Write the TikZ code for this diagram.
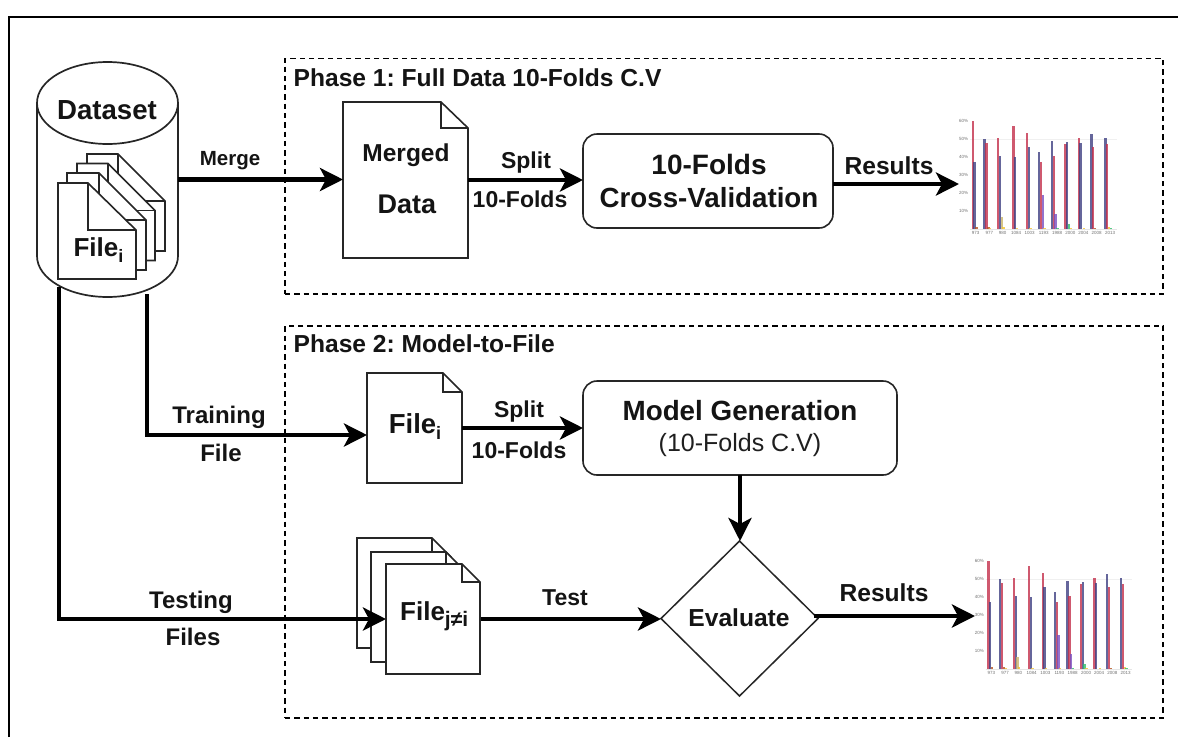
\documentclass[tikz,border=0pt]{standalone}
\usepackage{fontspec}
\setmainfont{Liberation Sans}
\usetikzlibrary{arrows.meta,calc,shapes.geometric}
\frenchspacing
\newcommand\fsz[1]{\fontsize{#1}{#1}\selectfont}
\newcommand\subi[1]{{\fsz{18}\raisebox{-6pt}{#1}}}
\definecolor{barred}{HTML}{C4304C}
\definecolor{barblue}{HTML}{3F4082}
\definecolor{baryel}{HTML}{F2C230}
\definecolor{barkhaki}{HTML}{C9B36A}
\definecolor{barpur}{HTML}{7A4FC0}
\definecolor{bargrn}{HTML}{2FBF6A}
\definecolor{barbrn}{HTML}{B5521E}
\tikzset{
  frameline/.style={line width=2pt,draw=black},
  phasebox/.style={draw=black,line width=1.7pt,dash pattern=on 5.3pt off 4pt,inner sep=0pt,outer sep=0pt},
  anchorbox/.style={inner sep=0pt,outer sep=0pt},
  docline/.style={draw=black!85,fill=white,line width=1.6pt,line join=miter},
  procbox/.style={draw=black!85,fill=white,line width=1.6pt,rounded corners=14pt,inner sep=0pt,outer sep=0pt},
  flow/.style={line width=4.6pt,draw=black,-{Stealth[length=23pt,width=23pt,inset=6pt]}},
  lab/.style={font=\bfseries\fsz{24},inner sep=0pt,text=black!92},
  chartbar/.style={opacity=.8},
  ticklab/.style={font=\fsz{4.5},text=black!55,inner sep=0pt},
}
\newcommand\docshape[3]{%
  \draw[docline] (#1.north west) -- ($(#1.north east)+(-#2,0)$) -- ($(#1.north east)+(0,#3)$)
    -- (#1.south east) -- (#1.south west) -- cycle;
  \draw[docline,fill=none] ($(#1.north east)+(-#2,0)$) -- ($(#1.north east)+(-#2,#3)$) -- ($(#1.north east)+(0,#3)$);
}
\newcommand\barchart[2]{%
  \begin{scope}[shift={(#1,#2)},x=0.33333pt,y=-0.33333pt]
    \draw[black!10,line width=.5pt] (150,387) -- (590,387);
    \draw[black!6,line width=.5pt] (150,118) -- (590,118);
    \foreach \yy/\tx in {64/60\%,118/50\%,172/40\%,226/30\%,280/20\%,334/10\%}
      \node[ticklab] at (131,\yy) {\tx};
    \foreach \xx/\tx in {167/973,208/977,248/980,288/1084,329/1003,371/1193,411/1988,451/2000,490/2004,530/2008,570/2013}
      \node[ticklab] at (\xx,398) {\tx};
    \foreach \xx/\tt/\cc in {
      158/62/barred,163/187/barblue,169/380/barbrn,
      193/118/barblue,199/128/barred,205/382/barbrn,210/385/baryel,
      234/115/barred,240/167/barblue,245/352/barkhaki,250/382/baryel,
      280/77/barred,285/170/barblue,290/385/baryel,
      321/100/barred,326/142/barblue,331/384/baryel,
      357/156/barblue,363/187/barred,368/286/barpur,373/385/baryel,
      395/124/barblue,401/168/barred,406/343/barpur,412/384/bargrn,
      436/131/barred,441/127/barblue,446/373/bargrn,452/385/baryel,
      476/115/barred,481/128/barblue,492/385/baryel,
      514/103/barblue,519/142/barred,525/384/barbrn,
      556/113/barblue,561/133/barred,567/382/baryel,572/385/bargrn}
      \fill[\cc,chartbar] (\xx-3.5,387) rectangle (\xx+3.5,\tt);
  \end{scope}%
}
\begin{document}
\begin{tikzpicture}[x=1pt,y=-1pt]
\useasboundingbox (0,0) rectangle (1178,737);
\fill[white] (0,0) rectangle (1178,737);
\draw[frameline] (9,737) -- (9,17) -- (1178,17);

% phase boxes
\node[phasebox,minimum width=878pt,minimum height=235.5pt] (phaseA) at (724,176.25) {};
\node[phasebox,minimum width=878pt,minimum height=392pt] (phaseB) at (724,522) {};
\node[lab,font=\bfseries\fsz{24.6},anchor=west] (titleA) at (293.5,78) {Phase 1: Full Data 10-Folds C.V};
\node[lab,font=\bfseries\fsz{24.6},anchor=west] (titleB) at (293.5,344) {Phase 2: Model-to-File};

% dataset cylinder
\node[anchorbox,minimum width=141pt,minimum height=235pt] (dataset) at (107.5,179.5) {};
\draw[docline,line width=1.7pt] (37,103) -- (37,256) .. controls (37,278.6) and (68.6,297) .. (107.5,297)
  .. controls (146.4,297) and (178,278.6) .. (178,256) -- (178,103);
\draw[docline,line width=1.7pt] (107.5,103) ellipse [x radius=70.5, y radius=41];
\node[lab,font=\bfseries\fsz{27.6}] (dstext) at (107,110) {Dataset};

% files in cylinder
\node[anchorbox,minimum width=78pt,minimum height=97pt] (cfD) at (126,202.5) {};
\node[anchorbox,minimum width=78pt,minimum height=97pt] (cfC) at (116,212) {};
\node[anchorbox,minimum width=79pt,minimum height=97pt] (cfB) at (106.5,221.5) {};
\node[anchorbox,minimum width=78pt,minimum height=96pt] (cfA) at (97,231) {};
\docshape{cfD}{47}{47}
\docshape{cfC}{47}{47}
\docshape{cfB}{47}{47}
\docshape{cfA}{48}{47}
\node[lab,font=\bfseries\fsz{26}] (cftext) at (98.5,250) {File\subi{i}};

% merged doc
\node[anchorbox,minimum width=125pt,minimum height=156pt] (merged) at (405.5,180) {};
\docshape{merged}{27}{26}
\node[lab,font=\bfseries\fsz{24.5}] (mergedA) at (406,155.5) {Merged};
\node[lab,font=\bfseries\fsz{27}] (mergedB) at (407,204) {Data};

% CV box
\node[procbox,minimum width=250pt,minimum height=94pt] (cv) at (708,181) {};
\node[lab,font=\bfseries\fsz{28}] (cvA) at (709,164) {10-Folds};
\node[lab,font=\bfseries\fsz{27.7}] (cvB) at (709,198) {Cross-Validation};

% file i
\node[anchorbox,minimum width=95pt,minimum height=110pt] (fileI) at (414.5,428) {};
\docshape{fileI}{19}{19}
\node[lab,font=\bfseries\fsz{27.5}] (fileItext) at (415,427) {File\subi{i}};

% model box
\node[procbox,minimum width=314pt,minimum height=94pt] (model) at (740,428) {};
\node[lab,font=\bfseries\fsz{27.8}] (modelA) at (740,411) {Model Generation};
\node[font=\fsz{25},inner sep=0pt,text=black!88] (modelB) at (740,445) {(10-Folds C.V)};

% diamond
\node[diamond,draw=black!85,fill=white,line width=1.5pt,aspect=1,inner sep=0pt,outer sep=0pt,
  minimum width=157pt,minimum height=155pt] (eval) at (739.5,618.5) {};
\node[lab,font=\bfseries\fsz{24.6}] (evaltext) at (739,618) {Evaluate};

% stacked files
\node[anchorbox,minimum width=94pt,minimum height=110pt] (fjC) at (404,593) {};
\node[anchorbox,minimum width=94pt,minimum height=110pt] (fjB) at (418,607) {};
\node[anchorbox,minimum width=94pt,minimum height=110pt] (fileJ) at (433,619) {};
\docshape{fjC}{19}{19}
\docshape{fjB}{19}{19}

% charts
\node[anchorbox,minimum width=158pt,minimum height=130pt] (chartA) at (1040,184) {};
\node[anchorbox,minimum width=158pt,minimum height=122pt] (chartB) at (1054,616) {};
\barchart{920}{100}
\barchart{935.67}{540}

% connectors
\coordinate (trainstart) at (147,294);
\coordinate (teststart) at (59,287);
\draw[flow] (dataset.east) -- (dataset.east -| merged.west);
\draw[flow] (merged.east) -- (merged.east -| cv.west);
\draw[flow] (cv.east |- chartA.west) -- ($(chartA.west)+(-2,0)$);
\draw[flow] (fileI.east) -- (model.west);
\draw[flow] (model.south) -- (model.south |- eval.north);
\draw[flow] ($(eval.east)+(-4,-2.5)$) -- ($(chartB.west)+(0,0)$);
\draw[flow] (trainstart) |- ($(fileI.west)+(0,7)$);
\draw[flow] (teststart) |- (fileJ.west);
\draw[flow] (fileJ.east) -- (fileJ.east -| eval.west);
\docshape{fileJ}{18}{18}
\node[lab,font=\bfseries\fsz{26},anchor=west] (fileJtext) at (400,616) {File{\fsz{21}\raisebox{-6pt}{j≠i}}};

% labels
\node[lab,font=\bfseries\fsz{20.5}] (lmerge) at (230,161) {Merge};
\node[lab,font=\bfseries\fsz{23}] (lsplitA) at (526,163) {Split};
\node[lab,font=\bfseries\fsz{23}] (lfoldA) at (520,199) {10-Folds};
\node[lab,font=\bfseries\fsz{24.6}] (lresA) at (889,166) {Results};
\node[lab] (ltrainA) at (219,417) {Training};
\node[lab] (ltrainB) at (221,453) {File};
\node[lab,font=\bfseries\fsz{23}] (lsplitB) at (519,412) {Split};
\node[lab,font=\bfseries\fsz{23}] (lfoldB) at (519,450) {10-Folds};
\node[lab] (ltestA) at (191,602) {Testing};
\node[lab] (ltestB) at (193,637) {Files};
\node[lab,font=\bfseries\fsz{23}] (ltest) at (565,598) {Test};
\node[lab,font=\bfseries\fsz{24.6}] (lresB) at (884,593) {Results};
\end{tikzpicture}
\end{document}
